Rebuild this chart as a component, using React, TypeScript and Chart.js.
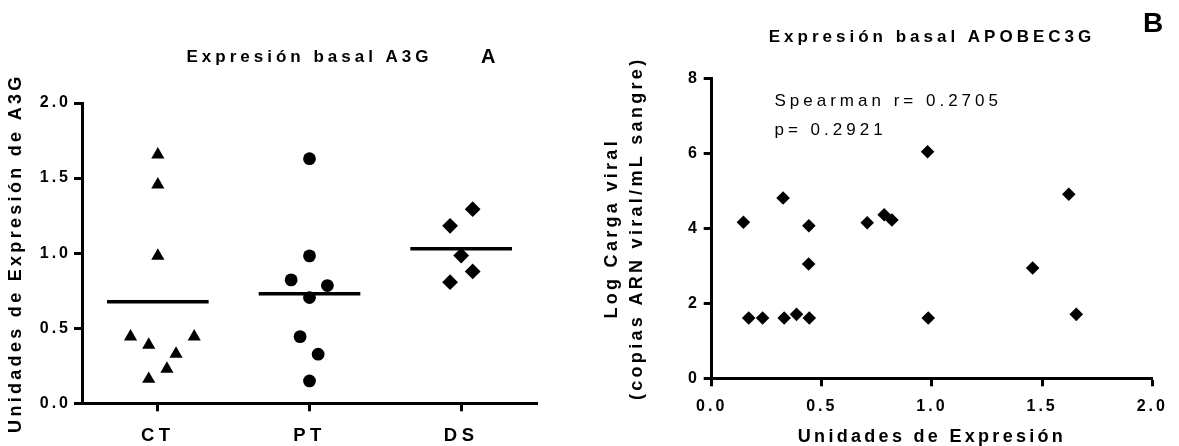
import React, { useEffect, useRef } from 'react';
import { Chart, registerables } from 'chart.js';

Chart.register(...registerables);

// ---------- Panel A data ----------
const categoriesA = ['CT', 'PT', 'DS'];
const ctX = [0.5, 0.5, 0.5, 0.32, 0.44, 0.74, 0.62, 0.56, 0.44];
const ctY = [1.656, 1.456, 0.982, 0.444, 0.389, 0.444, 0.329, 0.229, 0.162];
const ptX = [1.5, 1.5, 1.379, 1.618, 1.5, 1.438, 1.557, 1.5];
const ptY = [1.629, 0.982, 0.822, 0.784, 0.704, 0.444, 0.327, 0.149];
const dsX = [2.427, 2.576, 2.5, 2.576, 2.427];
const dsY = [1.182, 1.293, 0.984, 0.878, 0.807];
const yTicksA = [0, 0.5, 1.0, 1.5, 2.0];
const titleA = 'Expresión basal A3G';
const yTitleA = 'Unidades de Expresión de A3G';

// ---------- Panel B data ----------
const expresionB = [0.144, 0.168, 0.231, 0.324, 0.329, 0.385, 0.441, 0.44, 0.443, 0.706, 0.783, 0.818, 0.98, 0.983, 1.457, 1.621, 1.655];
const cargaViralB = [4.16, 1.607, 1.607, 4.81, 1.607, 1.705, 4.07, 3.05, 1.607, 4.15, 4.36, 4.22, 6.04, 1.607, 2.94, 4.91, 1.705];
const xTicksB = [0, 0.5, 1.0, 1.5, 2.0];
const yTicksB = [0, 2, 4, 6, 8];
const titleB = 'Expresión basal APOBEC3G';
const yTitleB = ['Log Carga viral', '(copias ARN viral/mL sangre)'];
const xTitleB = 'Unidades de Expresión';
const statLines = ['Spearman r= 0.2705', 'p= 0.2921'];

const FAMILY = '"Liberation Sans", Arial, sans-serif';
Chart.defaults.font.family = FAMILY;
Chart.defaults.color = '#000';

// letter spacing by font size (px)
const SPACING: Record<string, number> = { '16': 3, '17': 4, '18': 3.3, '18.5': 4.5 };

function applySpacing(ctx: any) {
  const desc = Object.getOwnPropertyDescriptor(CanvasRenderingContext2D.prototype, 'font') as any;
  Object.defineProperty(ctx, 'font', {
    configurable: true,
    get() {
      return desc.get.call(this);
    },
    set(v: string) {
      desc.set.call(this, v);
      const m = /(\d+(?:\.\d+)?)px/.exec(v);
      const s = m && SPACING[m[1]] !== undefined ? SPACING[m[1]] : 0;
      try {
        this.letterSpacing = s + 'px';
      } catch (e) {}
    },
  });
}

const zip = (xs: number[], ys: number[]) => xs.map((x, i) => ({ x, y: ys[i] }));
const HALF = 0.335;
const meanLine = (ys: number[], center: number) => {
  const m = ys.reduce((a, b) => a + b, 0) / ys.length;
  return [
    { x: center - HALF, y: m },
    { x: center + HALF, y: m },
  ];
};

const axisGrid = (len: number) => ({
  display: true,
  drawOnChartArea: false,
  drawTicks: true,
  tickLength: len,
  tickWidth: 3,
  color: '#000',
});
const axisBorder = { display: true, color: '#000', width: 3 };

function configA(): any {
  const pt = (data: any, style: string, r: number) => ({
    data,
    pointStyle: style,
    pointRadius: r,
    pointHoverRadius: r,
    backgroundColor: '#000',
    borderColor: '#000',
    borderWidth: 0,
    showLine: false,
  });
  const line = (data: any) => ({
    data,
    showLine: true,
    borderColor: '#000',
    borderWidth: 3.5,
    pointRadius: 0,
    pointHoverRadius: 0,
    fill: false,
  });
  return {
    type: 'scatter',
    data: {
      datasets: [
        pt(zip(ctX, ctY), 'triangle', 7.6),
        pt(zip(ptX, ptY), 'circle', 6.4),
        pt(zip(dsX, dsY), 'rectRot', 7.9),
        line(meanLine(ctY, 0.5)),
        line(meanLine(ptY, 1.5)),
        line(meanLine(dsY, 2.5)),
      ],
    },
    options: {
      responsive: false,
      animation: false,
      events: [],
      layout: { padding: { left: 0, right: 43, top: 0, bottom: 0 } },
      plugins: {
        legend: { display: false },
        tooltip: { enabled: false },
        title: {
          display: true,
          text: titleA,
          fullSize: false,
          color: '#000',
          font: { size: 17, weight: 'bold' },
          padding: { top: 47.5, bottom: 35.1 },
        },
      },
      scales: {
        x: {
          type: 'linear',
          min: 0,
          max: 3,
          afterBuildTicks: (s: any) => {
            s.ticks = categoriesA.map((_, i) => ({ value: i + 0.5 }));
          },
          ticks: {
            callback: (_v: any, i: number) => categoriesA[i],
            font: { size: 18.5, weight: 'bold' },
            color: '#000',
            padding: 13.6,
            maxRotation: 0,
            autoSkip: false,
          },
          grid: axisGrid(8),
          border: axisBorder,
          afterFit: (s: any) => {
            s.height = 42.7;
          },
        },
        y: {
          min: 0,
          max: 2,
          afterBuildTicks: (s: any) => {
            s.ticks = yTicksA.map((v) => ({ value: v }));
          },
          ticks: {
            callback: (v: any) => Number(v).toFixed(1),
            font: { size: 16, weight: 'bold' },
            color: '#000',
            padding: 3,
          },
          grid: axisGrid(8),
          border: axisBorder,
          title: {
            display: true,
            text: yTitleA,
            color: '#000',
            font: { size: 18, weight: 'bold' },
            padding: { top: 5.2, bottom: 0 },
          },
          afterFit: (s: any) => {
            s.width = 82;
          },
        },
      },
    },
  };
}

const statPlugin = {
  id: 'statText',
  afterDraw(chart: any) {
    const { ctx, scales } = chart;
    ctx.save();
    ctx.font = 'normal 17px ' + FAMILY;
    ctx.fillStyle = '#000';
    ctx.textAlign = 'left';
    ctx.textBaseline = 'middle';
    const x = scales.x.getPixelForValue(0.285);
    const ys = [7.38, 6.62];
    statLines.forEach((t, i) => ctx.fillText(t, x, scales.y.getPixelForValue(ys[i])));
    ctx.restore();
  },
};

function configB(): any {
  return {
    type: 'scatter',
    data: {
      datasets: [
        {
          data: zip(expresionB, cargaViralB),
          pointStyle: 'rectRot',
          pointRadius: 6.8,
          pointHoverRadius: 6.8,
          backgroundColor: '#000',
          borderColor: '#000',
          borderWidth: 0,
        },
      ],
    },
    plugins: [statPlugin],
    options: {
      responsive: false,
      animation: false,
      events: [],
      layout: { padding: { left: 0, right: 16.7, top: 0, bottom: 0 } },
      plugins: {
        legend: { display: false },
        tooltip: { enabled: false },
        title: {
          display: true,
          text: titleB,
          fullSize: false,
          color: '#000',
          font: { size: 17, weight: 'bold' },
          padding: { top: 26.8, bottom: 31.1 },
        },
      },
      scales: {
        x: {
          type: 'linear',
          min: 0,
          max: 2,
          afterBuildTicks: (s: any) => {
            s.ticks = xTicksB.map((v) => ({ value: v }));
          },
          ticks: {
            callback: (v: any) => Number(v).toFixed(1),
            font: { size: 16, weight: 'bold' },
            color: '#000',
            padding: 11.1,
            maxRotation: 0,
            autoSkip: false,
          },
          grid: axisGrid(8),
          border: axisBorder,
          title: {
            display: true,
            text: xTitleB,
            color: '#000',
            font: { size: 18, weight: 'bold', lineHeight: 1 },
            padding: { top: 0, bottom: 0 },
          },
          afterFit: (s: any) => {
            s.height = 67.7;
          },
        },
        y: {
          min: 0,
          max: 8,
          afterBuildTicks: (s: any) => {
            s.ticks = yTicksB.map((v) => ({ value: v }));
          },
          ticks: {
            callback: (v: any) => String(v),
            font: { size: 16, weight: 'bold' },
            color: '#000',
            padding: 3.7,
          },
          grid: axisGrid(8),
          border: axisBorder,
          title: {
            display: true,
            text: yTitleB,
            color: '#000',
            font: { size: 18, weight: 'bold', lineHeight: 1.389 },
            padding: { top: 20, bottom: 0 },
          },
          afterFit: (s: any) => {
            s.width = 131.7;
          },
        },
      },
    },
  };
}

export default function App() {
  const refA = useRef<HTMLCanvasElement | null>(null);
  const refB = useRef<HTMLCanvasElement | null>(null);

  useEffect(() => {
    const ctxA = refA.current!.getContext('2d');
    const ctxB = refB.current!.getContext('2d');
    applySpacing(ctxA);
    applySpacing(ctxB);
    const chartA = new Chart(ctxA as any, configA());
    const chartB = new Chart(ctxB as any, configB());
    return () => {
      chartA.destroy();
      chartB.destroy();
    };
  }, []);

  return (
    <div
      style={{
        position: 'absolute',
        left: 0,
        top: 0,
        width: 1179,
        height: 446,
        background: '#fff',
        overflow: 'hidden',
      }}
    >
      <canvas ref={refA} width={580} height={446} style={{ position: 'absolute', left: 0, top: 0 }} />
      <canvas ref={refB} width={599} height={446} style={{ position: 'absolute', left: 580, top: 0 }} />
      <div
        style={{
          position: 'absolute',
          left: 481,
          top: 46,
          font: 'bold 20px ' + FAMILY,
          lineHeight: '1',
          color: '#000',
        }}
      >
        A
      </div>
      <div
        style={{
          position: 'absolute',
          left: 1143,
          top: 9.3,
          font: 'bold 28px ' + FAMILY,
          lineHeight: '1',
          color: '#000',
        }}
      >
        B
      </div>
    </div>
  );
}
